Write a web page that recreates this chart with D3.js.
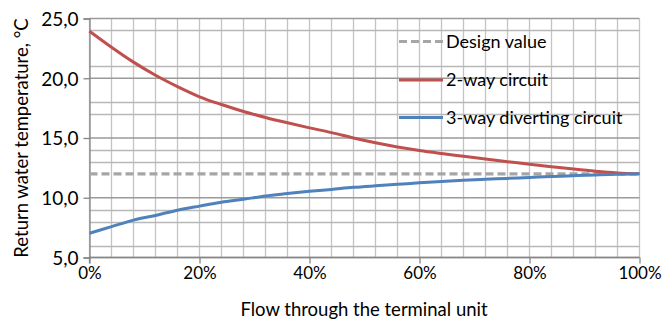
<!DOCTYPE html>
<html><head><meta charset="utf-8">
<script src="https://cdn.jsdelivr.net/npm/d3@7/dist/d3.min.js"></script>
<style>body{margin:0;background:#fff}svg{display:block}text{font-family:Lato,"Open Sans",sans-serif;fill:#000}</style>
</head><body><svg id="c" width="662" height="324"></svg>
<script>
// Data
const flow = [0,0.04,0.08,0.12,0.16,0.20,0.24,0.28,0.32,0.36,0.40,0.44,0.48,0.52,0.56,0.60,0.64,0.68,0.72,0.76,0.80,0.84,0.88,0.92,0.96,1.00];
const twoWay = [23.94,22.6,21.35,20.25,19.3,18.45,17.8,17.22,16.72,16.27,15.85,15.45,15.0,14.6,14.25,13.95,13.7,13.47,13.24,13.02,12.8,12.6,12.4,12.22,12.08,12.0];
const threeWay = [7.03,7.58,8.13,8.52,8.96,9.3,9.62,9.87,10.15,10.35,10.54,10.7,10.87,11.0,11.12,11.25,11.36,11.46,11.54,11.62,11.7,11.78,11.85,11.91,11.96,12.0];
const designValue = 12.0;
const yTicks = [5,10,15,20,25];
const yMinorGrid = [6,8,9,13,14,17,18,21,24];
const xTicks = [0,0.2,0.4,0.6,0.8,1.0];
const xGrid = d3.range(0,26).map(i=>i*0.04);
const seriesNames = ["Design value","2-way circuit","3-way diverting circuit"];

const svg = d3.select("#c");
const L=89.5, R=639.5, T=18.5, B=257.5;
const x = d3.scaleLinear().domain([0,1]).range([L,R]);
const y = d3.scaleLinear().domain([5,25]).range([B,T]);
const fmt = d=>d.toFixed(1).replace(".",",");

// grid
svg.append("g").selectAll("line").data(xGrid).join("line")
  .attr("x1",d=>x(d)).attr("x2",d=>x(d)).attr("y1",T).attr("y2",B)
  .attr("stroke","#c4c4c4").attr("stroke-width",1.3);
svg.append("g").selectAll("line").data(yMinorGrid).join("line")
  .attr("x1",L).attr("x2",R).attr("y1",d=>Math.round(y(d))+0.5).attr("y2",d=>Math.round(y(d))+0.5)
  .attr("stroke","#b8b8b8").attr("stroke-width",1.3);
svg.append("g").selectAll("line").data(yTicks).join("line")
  .attr("x1",L).attr("x2",R).attr("y1",d=>y(d)).attr("y2",d=>y(d))
  .attr("stroke","#9a9a9a").attr("stroke-width",1.3);

// axes
const ya = svg.append("g").attr("transform",`translate(${L},0)`)
  .call(d3.axisLeft(y).tickValues(yTicks).tickFormat(fmt).tickSize(6).tickPadding(5));
const xa = svg.append("g").attr("transform",`translate(0,${B})`)
  .call(d3.axisBottom(x).tickValues(xTicks).tickFormat(d3.format(".0%")).tickSize(6).tickPadding(3));
[ya,xa].forEach(a=>{
  a.selectAll("path").attr("stroke","#868686").attr("stroke-width",1.3);
  a.selectAll("line").attr("stroke","#868686").attr("stroke-width",1.3);
  a.selectAll("text").attr("fill","#000");
});
ya.selectAll("text").style("font-size","19px").attr("dy","0.36em");
xa.selectAll("text").style("font-size","17px");
xa.select(".domain").attr("d",`M${L},6V0H${R}`);

// lines
const line = d3.line().x((d,i)=>x(flow[i])).y(d=>y(d)).curve(d3.curveMonotoneX);
svg.append("path").datum(flow.map(()=>designValue)).attr("d",line)
  .attr("fill","none").attr("stroke","#a6a6a6").attr("stroke-width",3.2).attr("stroke-dasharray","8,4");
svg.append("path").datum(twoWay).attr("d",line)
  .attr("fill","none").attr("stroke","#c0504d").attr("stroke-width",3);
svg.append("path").datum(threeWay).attr("d",line)
  .attr("fill","none").attr("stroke","#4f81bd").attr("stroke-width",3);

// legend
const lg = svg.append("g");
const lgY = [41.5,80,117.5];
const lgStyle = [{c:"#a6a6a6",dash:"8,4"},{c:"#c0504d",dash:null},{c:"#4f81bd",dash:null}];
seriesNames.forEach((n,i)=>{
  lg.append("line").attr("x1",399).attr("x2",443).attr("y1",lgY[i]).attr("y2",lgY[i])
    .attr("stroke",lgStyle[i].c).attr("stroke-width",3).attr("stroke-dasharray",lgStyle[i].dash);
  lg.append("text").attr("x",446).attr("y",lgY[i]).attr("dy","0.35em").style("font-size","18px").text(n);
});

// titles
svg.append("text").attr("x",364).attr("y",310).attr("dy","0.35em").attr("text-anchor","middle")
  .style("font-size","18.5px").text("Flow through the terminal unit");
svg.append("text").attr("transform",`translate(22,${138}) rotate(-90)`).attr("dy","0.35em").attr("text-anchor","middle")
  .style("font-size","18.5px").text("Return water temperature, °C");
</script></body></html>
